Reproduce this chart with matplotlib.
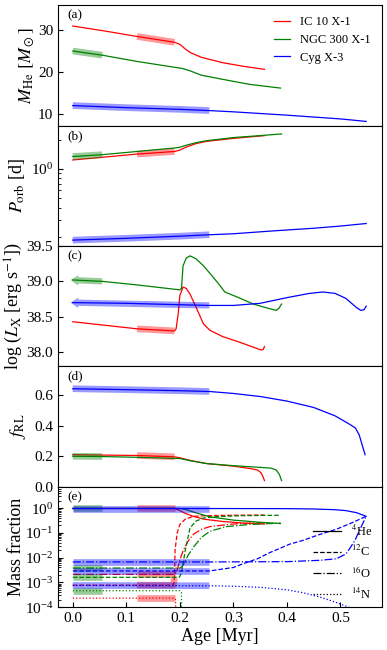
import numpy as np
import matplotlib
matplotlib.use("Agg")
import matplotlib.pyplot as plt
from matplotlib.ticker import NullFormatter, LogLocator

plt.rcParams['font.family'] = ['Liberation Serif', 'DejaVu Serif']
plt.rcParams['mathtext.fontset'] = 'stix'

# ---------------- data ----------------
systems = ["IC 10 X-1", "NGC 300 X-1", "Cyg X-3"]
colors = ["red", "green", "blue"]
windows = [(0.12, 0.19), (0.0, 0.055), (0.0, 0.255)]

# (a) helium star mass
ic10_a_age = [0, 0.06, 0.12, 0.19, 0.2, 0.21, 0.22, 0.24, 0.28, 0.32, 0.358]
ic10_a_m = [31.0, 29.8, 28.5, 27.1, 26.6, 25.5, 24.6, 23.5, 22.2, 21.3, 20.6]
ngc_a_age = [0, 0.055, 0.12, 0.19, 0.205, 0.22, 0.24, 0.28, 0.33, 0.388]
ngc_a_m = [25.0, 24.0, 22.5, 21.1, 20.8, 20.2, 19.2, 18.2, 17.0, 16.1]
cyg_a_age = [0, 0.1, 0.2, 0.255, 0.3, 0.4, 0.5, 0.548]
cyg_a_m = [11.9, 11.4, 11.0, 10.7, 10.4, 9.6, 8.7, 8.1]

# (b) orbital period
ic10_b_age = [0, 0.12, 0.19, 0.2, 0.21, 0.23, 0.25, 0.3, 0.358]
ic10_b_p = [1.235, 1.42, 1.51, 1.56, 1.66, 1.82, 1.92, 2.06, 2.2]
ngc_b_age = [0, 0.055, 0.12, 0.19, 0.2, 0.21, 0.23, 0.25, 0.3, 0.35, 0.39]
ngc_b_p = [1.34, 1.40, 1.51, 1.64, 1.67, 1.74, 1.86, 1.95, 2.1, 2.2, 2.29]
cyg_b_age = [0, 0.1, 0.2, 0.255, 0.3, 0.374, 0.45, 0.5, 0.548]
cyg_b_p = [0.185, 0.193, 0.203, 0.21, 0.215, 0.23, 0.245, 0.258, 0.274]

# (c) X-ray luminosity
ic10_c_age = [0, 0.06, 0.12, 0.19, 0.193, 0.197, 0.2, 0.206, 0.212, 0.219, 0.23,
              0.244, 0.256, 0.28, 0.312, 0.352, 0.356, 0.358]
ic10_c_l = [38.43, 38.38, 38.33, 38.30, 38.33, 38.55, 38.80, 38.92, 38.90, 38.82, 38.64,
            38.40, 38.31, 38.22, 38.14, 38.03, 38.04, 38.08]
ngc_c_age = [0, 0.055, 0.12, 0.2, 0.203, 0.206, 0.212, 0.219, 0.23, 0.244, 0.26,
             0.275, 0.284, 0.31, 0.337, 0.36, 0.38, 0.385, 0.39]
ngc_c_l = [39.02, 39.0, 38.95, 38.88, 38.9, 39.22, 39.33, 39.36, 39.32, 39.22, 39.08,
           38.94, 38.85, 38.77, 38.68, 38.63, 38.59, 38.62, 38.68]
cyg_c_age = [0, 0.1, 0.2, 0.255, 0.3, 0.35, 0.4, 0.442, 0.467, 0.49, 0.51, 0.53,
             0.538, 0.544, 0.548]
cyg_c_l = [38.70, 38.69, 38.67, 38.66, 38.66, 38.69, 38.77, 38.83, 38.85, 38.83, 38.76,
           38.63, 38.59, 38.60, 38.65]

# (d) Roche-lobe filling factor
ic10_d_age = [0, 0.12, 0.19, 0.2, 0.22, 0.25, 0.3, 0.33, 0.345, 0.352, 0.356, 0.358]
ic10_d_f = [0.21, 0.205, 0.196, 0.19, 0.172, 0.152, 0.135, 0.12, 0.11, 0.09, 0.06, 0.04]
ngc_d_age = [0, 0.055, 0.12, 0.2, 0.22, 0.25, 0.3, 0.35, 0.37, 0.38, 0.386, 0.39]
ngc_d_f = [0.20, 0.198, 0.193, 0.185, 0.17, 0.152, 0.138, 0.127, 0.122, 0.11, 0.08, 0.04]
cyg_d_age = [0, 0.1, 0.2, 0.255, 0.3, 0.35, 0.4, 0.45, 0.49, 0.517, 0.528, 0.535, 0.54, 0.546]
cyg_d_f = [0.643, 0.637, 0.630, 0.625, 0.612, 0.592, 0.562, 0.52, 0.465, 0.41, 0.385, 0.34,
           0.28, 0.21]

# (e) surface mass fractions
ic10_he_age = [0, 0.12, 0.19, 0.2, 0.21, 0.225, 0.245, 0.28, 0.32, 0.358]
ic10_he = [0.98, 0.98, 0.98, 0.8, 0.62, 0.47, 0.36, 0.29, 0.25, 0.23]
ic10_c_age_e = [0, 0.12, 0.188, 0.19, 0.191, 0.195, 0.2, 0.21, 0.225, 0.25, 0.3, 0.358]
ic10_c12 = [7.7e-4, 7.7e-4, 7.7e-4, 1.5e-3, 0.02, 0.1, 0.22, 0.36, 0.47, 0.5, 0.52, 0.53]
ic10_o_age = [0, 0.12, 0.19, 0.194, 0.2, 0.206, 0.215, 0.225, 0.24, 0.256, 0.3, 0.358]
ic10_o16 = [2.1e-3, 2.1e-3, 2.1e-3, 2.5e-3, 8e-3, 0.019, 0.045, 0.087, 0.14, 0.18, 0.23, 0.26]
ic10_n_age = [0, 0.12, 0.19, 0.192, 0.192]
ic10_n14 = [2.3e-4, 2.3e-4, 2.3e-4, 2.0e-4, 1e-5]

ngc_he_age = [0, 0.055, 0.2, 0.21, 0.23, 0.256, 0.3, 0.35, 0.388]
ngc_he = [0.98, 0.98, 0.98, 0.9, 0.65, 0.45, 0.33, 0.27, 0.24]
ngc_c_age_e = [0, 0.055, 0.199, 0.203, 0.21, 0.219, 0.23, 0.244, 0.27, 0.32, 0.388]
ngc_c12 = [1.6e-3, 1.6e-3, 1.6e-3, 2.5e-3, 0.019, 0.16, 0.3, 0.4, 0.46, 0.5, 0.52]
ngc_o_age = [0, 0.055, 0.2, 0.205, 0.215, 0.225, 0.24, 0.256, 0.287, 0.33, 0.388]
ngc_o16 = [3.8e-3, 3.8e-3, 3.8e-3, 4.5e-3, 0.012, 0.026, 0.065, 0.117, 0.18, 0.22, 0.25]
ngc_n_age = [0, 0.055, 0.2, 0.203, 0.203]
ngc_n14 = [4.6e-4, 4.6e-4, 4.6e-4, 4.0e-4, 1e-5]

cyg_he_age = [0, 0.255, 0.4, 0.45, 0.49, 0.51, 0.53, 0.548]
cyg_he = [0.97, 0.97, 0.96, 0.93, 0.87, 0.8, 0.66, 0.47]
cyg_c_age_e = [0, 0.255, 0.3, 0.318, 0.345, 0.368, 0.405, 0.43, 0.46, 0.492, 0.52, 0.548]
cyg_c12 = [2.9e-3, 2.9e-3, 4.0e-3, 5.7e-3, 9e-3, 0.016, 0.035, 0.05, 0.085, 0.14, 0.25, 0.47]
cyg_o_age = [0, 0.255, 0.4, 0.461, 0.492, 0.51, 0.517, 0.527, 0.535, 0.542, 0.548]
cyg_o16 = [6.7e-3, 6.7e-3, 6.9e-3, 7.8e-3, 9e-3, 0.014, 0.023, 0.05, 0.12, 0.25, 0.47]
cyg_n_age = [0, 0.255, 0.3, 0.35, 0.4, 0.43, 0.46, 0.49, 0.515, 0.53]
cyg_n14 = [7.5e-4, 7.3e-4, 7.0e-4, 6.3e-4, 5.0e-4, 3.8e-4, 2.6e-4, 1.6e-4, 1.0e-4, 7e-5]

species_labels = [r"$^{4}$He", r"$^{12}$C", r"$^{16}$O", r"$^{14}$N"]
species_styles = ["-", "--", "-.", ":"]

# ---------------- plot ----------------
fig, axes = plt.subplots(5, 1, sharex=True, figsize=(3.87, 6.5), dpi=100)
fig.subplots_adjust(left=0.150, right=0.987, top=0.992, bottom=0.066, hspace=0)

LW = 0.9
BW = 4.8
BA = 0.4


def draw(ax, age, val, color, win, ls="-", label=None, band=True):
    age = np.asarray(age)
    val = np.asarray(val)
    ax.plot(age, val, color=color, lw=LW, ls=ls, label=label)
    if band:
        m = (age >= win[0] - 1e-9) & (age <= win[1] + 1e-9)
        ax.plot(age[m], val[m], color=color, lw=BW, alpha=BA, solid_capstyle='butt')


panel_a = [(ic10_a_age, ic10_a_m), (ngc_a_age, ngc_a_m), (cyg_a_age, cyg_a_m)]
panel_b = [(ic10_b_age, ic10_b_p), (ngc_b_age, ngc_b_p), (cyg_b_age, cyg_b_p)]
panel_c = [(ic10_c_age, ic10_c_l), (ngc_c_age, ngc_c_l), (cyg_c_age, cyg_c_l)]
panel_d = [(ic10_d_age, ic10_d_f), (ngc_d_age, ngc_d_f), (cyg_d_age, cyg_d_f)]

ax = axes[0]
for (a, v), c, w, n in zip(panel_a, colors, windows, systems):
    draw(ax, a, v, c, w, label=n)
ax.set_ylim(7.1, 36)
ax.set_yticks([10, 20, 30])
ax.set_ylabel(r"$M_{\rm He}\ [M_\odot]$", fontsize=13)
ax.legend(loc='upper right', frameon=False, fontsize=9, handlelength=1.3,
          labelspacing=0.45, bbox_to_anchor=(1.0, 1.0), borderaxespad=0.5)

ax = axes[1]
for (a, v), c, w in zip(panel_b, colors, windows):
    draw(ax, a, v, c, w)
ax.set_yscale('log')
ax.set_ylim(0.161, 2.79)
ax.yaxis.set_major_locator(LogLocator(base=10, numticks=10))
ax.yaxis.set_minor_locator(LogLocator(base=10, subs=np.arange(2, 10), numticks=10))
ax.yaxis.set_minor_formatter(NullFormatter())
ax.set_ylabel(r"$P_{\rm orb}$ [d]", fontsize=13)

ax = axes[2]
for (a, v), c, w in zip(panel_c, colors, windows):
    a = np.asarray(a); v = np.asarray(v)
    ax.plot(a, v, color=c, lw=LW)
    m = (a >= w[0] - 1e-9) & (a <= w[1] + 1e-9)
    if w[0] == 0.0:
        ax.annotate('', xy=(-0.004, v[m][0]), xytext=(a[m][-1], v[m][-1]),
                    arrowprops=dict(arrowstyle='simple,head_length=0.55,head_width=0.75,tail_width=0.45',
                                    color=c, alpha=BA, lw=0, shrinkA=0, shrinkB=0))
    else:
        ax.plot(a[m], v[m], color=c, lw=BW, alpha=BA, solid_capstyle='butt')
ax.set_ylim(37.8, 39.5)
ax.set_yticks([38.0, 38.5, 39.0, 39.5])
ax.set_ylabel(r"log ($L_{\rm X}$ [erg s$^{-1}$])", fontsize=13)

ax = axes[3]
for (a, v), c, w in zip(panel_d, colors, windows):
    draw(ax, a, v, c, w)
ax.set_ylim(0, 0.79)
ax.set_yticks([0.0, 0.2, 0.4, 0.6])
ax.set_ylabel(r"$f_{\rm RL}$", fontsize=13)

ax = axes[4]
panel_e = [
    [(ic10_he_age, ic10_he), (ic10_c_age_e, ic10_c12), (ic10_o_age, ic10_o16), (ic10_n_age, ic10_n14)],
    [(ngc_he_age, ngc_he), (ngc_c_age_e, ngc_c12), (ngc_o_age, ngc_o16), (ngc_n_age, ngc_n14)],
    [(cyg_he_age, cyg_he), (cyg_c_age_e, cyg_c12), (cyg_o_age, cyg_o16), (cyg_n_age, cyg_n14)],
]
for sysdata, c, w in zip(panel_e, colors, windows):
    for (a, v), ls in zip(sysdata, species_styles):
        draw(ax, a, v, c, w, ls=ls)
ax.set_yscale('log')
ax.set_ylim(1e-4, 7.4)
ax.set_yticks([1e-4, 1e-3, 1e-2, 1e-1, 1e0])
ax.yaxis.set_minor_locator(LogLocator(base=10, subs=np.arange(2, 10), numticks=10))
ax.yaxis.set_minor_formatter(NullFormatter())
ax.set_ylabel("Mass fraction", fontsize=13)
ax.set_xlabel("Age [Myr]", fontsize=13, labelpad=2)
ax.set_xticks([0.0, 0.1, 0.2, 0.3, 0.4, 0.5])
ax.set_xlim(-0.0275, 0.5775)
handles = [plt.Line2D([], [], color='black', lw=LW, ls=ls) for ls in species_styles]
ax.legend(handles, species_labels, loc='center right', frameon=False, fontsize=9,
          handlelength=2.2, labelspacing=0.45, bbox_to_anchor=(1.0, 0.37), borderaxespad=0.4)

label_x = [-0.068, -0.096, -0.102, -0.093, -0.102]
for i, (ax, lab) in enumerate(zip(axes, ["(a)", "(b)", "(c)", "(d)", "(e)"])):
    ax.text(0.03, 0.965, lab, transform=ax.transAxes, va='top', ha='left', fontsize=9.5)
    ax.tick_params(axis='both', which='both', direction='in', labelsize=11)
    ax.yaxis.set_label_coords(label_x[i], 0.5)
    if i < 4:
        ax.tick_params(axis='x', which='both', length=0)

fig.savefig("out.png", dpi=100)
